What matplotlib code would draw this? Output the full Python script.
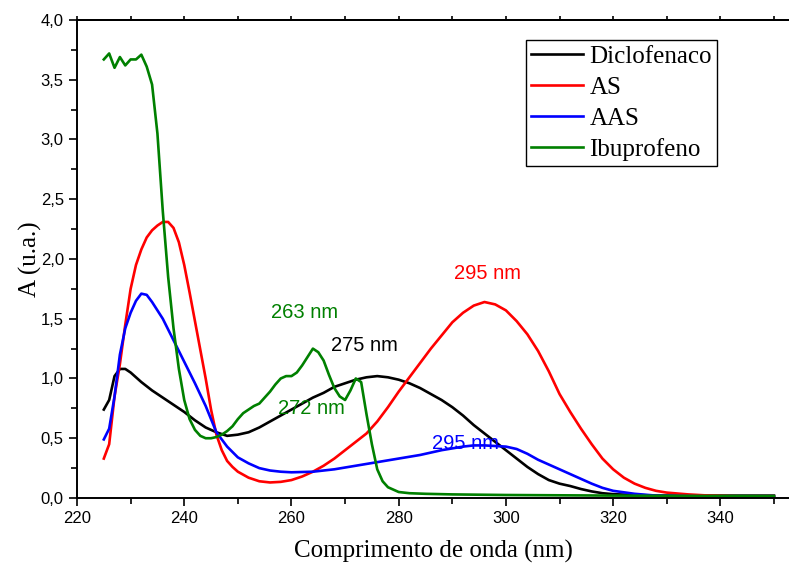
import matplotlib
matplotlib.use("Agg")
import matplotlib.pyplot as plt
from matplotlib.ticker import MultipleLocator, FuncFormatter

# ------------------------------------------------------------
# Absorption spectra (wavelength in nm, absorbance in a.u.)
# ------------------------------------------------------------

wl_diclo = [225, 226, 227, 228, 229, 230, 232, 234, 236, 238, 240, 242, 244, 246,
            248, 250, 252, 254, 256, 258, 260, 262, 264, 266, 268, 270, 272, 274,
            276, 278, 280, 282, 284, 286, 288, 290, 292, 294, 296, 298, 300, 302,
            304, 306, 308, 310, 312, 314, 316, 318, 320, 324, 328, 332, 340, 350]
a_diclo = [0.74, 0.82, 1.02, 1.08, 1.08, 1.05, 0.97, 0.90, 0.84, 0.78, 0.72, 0.65,
           0.59, 0.55, 0.52, 0.53, 0.55, 0.59, 0.64, 0.69, 0.74, 0.79, 0.84, 0.88,
           0.93, 0.96, 0.99, 1.01, 1.02, 1.01, 0.99, 0.96, 0.92, 0.87, 0.82, 0.76,
           0.69, 0.61, 0.54, 0.47, 0.40, 0.33, 0.26, 0.20, 0.15, 0.12, 0.10, 0.075,
           0.055, 0.04, 0.032, 0.025, 0.02, 0.02, 0.02, 0.02]

wl_as = [225, 226, 227, 228, 229, 230, 231, 232, 233, 234, 235, 236, 237, 238, 239,
         240, 241, 242, 243, 244, 245, 246, 247, 248, 249, 250, 252, 254, 256, 258,
         260, 262, 264, 266, 268, 270, 272, 274, 276, 278, 280, 282, 284, 286, 288,
         290, 292, 294, 296, 298, 300, 302, 304, 306, 308, 310, 312, 314, 316, 318,
         320, 322, 324, 326, 328, 330, 334, 338, 342, 350]
a_as = [0.33, 0.45, 0.85, 1.12, 1.45, 1.75, 1.95, 2.08, 2.18, 2.24, 2.28, 2.31, 2.31,
        2.26, 2.14, 1.95, 1.72, 1.48, 1.24, 1.00, 0.74, 0.53, 0.40, 0.31, 0.26, 0.22,
        0.17, 0.14, 0.13, 0.135, 0.15, 0.18, 0.22, 0.27, 0.33, 0.40, 0.47, 0.54, 0.64,
        0.76, 0.89, 1.01, 1.13, 1.25, 1.36, 1.47, 1.55, 1.61, 1.64, 1.62, 1.57, 1.48,
        1.37, 1.23, 1.06, 0.87, 0.72, 0.58, 0.45, 0.33, 0.24, 0.17, 0.12, 0.085, 0.06,
        0.045, 0.03, 0.02, 0.015, 0.01]

wl_aas = [225, 226, 227, 228, 229, 230, 231, 232, 233, 234, 236, 238, 240, 242, 244,
          246, 248, 250, 252, 254, 256, 258, 260, 264, 268, 272, 276, 280, 284, 288,
          292, 294, 296, 298, 300, 302, 304, 306, 308, 310, 312, 314, 316, 318, 320,
          324, 328, 335, 350]
a_aas = [0.49, 0.58, 0.85, 1.20, 1.42, 1.55, 1.65, 1.71, 1.70, 1.64, 1.50, 1.32, 1.14,
         0.96, 0.77, 0.55, 0.43, 0.34, 0.29, 0.25, 0.23, 0.22, 0.215, 0.22, 0.24, 0.27,
         0.30, 0.33, 0.36, 0.40, 0.43, 0.44, 0.44, 0.435, 0.43, 0.41, 0.37, 0.32, 0.28,
         0.24, 0.20, 0.16, 0.12, 0.085, 0.06, 0.035, 0.02, 0.015, 0.01]

wl_ibu = [225, 226, 227, 228, 229, 230, 231, 232, 233, 234, 235, 236, 237, 238, 239,
          240, 241, 242, 243, 244, 245, 246, 247, 248, 249, 250, 251, 252, 253, 254,
          255, 256, 257, 258, 259, 260, 261, 262, 263, 264, 265, 266, 267, 268, 269,
          270, 271, 272, 273, 274, 275, 276, 277, 278, 280, 282, 285, 290, 300, 320, 350]
a_ibu = [3.67, 3.72, 3.60, 3.69, 3.62, 3.67, 3.67, 3.71, 3.61, 3.46, 3.05, 2.40, 1.85,
         1.42, 1.08, 0.82, 0.66, 0.57, 0.52, 0.50, 0.50, 0.51, 0.53, 0.56, 0.60, 0.66,
         0.71, 0.74, 0.77, 0.79, 0.84, 0.89, 0.95, 1.00, 1.02, 1.02, 1.05, 1.11, 1.18,
         1.25, 1.22, 1.15, 1.03, 0.92, 0.85, 0.82, 0.90, 1.00, 0.97, 0.70, 0.45, 0.24,
         0.14, 0.09, 0.05, 0.04, 0.035, 0.03, 0.025, 0.02, 0.015]

# peak labels: text, x, y, colour
peak_labels = [("263 nm", 262.5, 1.55, "green"),
               ("275 nm", 273.7, 1.28, "black"),
               ("272 nm", 263.8, 0.75, "green"),
               ("295 nm", 296.5, 1.88, "red"),
               ("295 nm", 292.4, 0.46, "blue")]

# ============================================================
# Plot
# ============================================================

serif = "Liberation Serif"
sans = "Liberation Sans"

fig = plt.figure(figsize=(7.89, 5.65), dpi=100)
ax = fig.add_axes([0.0976, 0.1186, 0.9024, 0.846])

lw = 1.9
ax.plot(wl_diclo, a_diclo, color="black", lw=lw, label="Diclofenaco")
ax.plot(wl_as, a_as, color="red", lw=lw, label="AS")
ax.plot(wl_aas, a_aas, color="blue", lw=lw, label="AAS")
ax.plot(wl_ibu, a_ibu, color="green", lw=lw, label="Ibuprofeno")

for txt, x, y, c in peak_labels:
    ax.text(x, y, txt, color=c, fontsize=14.5, family=sans, ha="center", va="center")

ax.set_xlim(220, 352.8)
ax.set_ylim(0, 4.0)

ax.xaxis.set_major_locator(MultipleLocator(20))
ax.xaxis.set_minor_locator(MultipleLocator(10))
ax.yaxis.set_major_locator(MultipleLocator(0.5))
ax.yaxis.set_minor_locator(MultipleLocator(0.25))
ax.yaxis.set_major_formatter(FuncFormatter(lambda v, p: f"{v:.1f}".replace(".", ",")))

ax.tick_params(which="both", direction="out", width=1.2, top=False, right=False)
ax.tick_params(which="major", length=6, labelsize=12)
ax.tick_params(which="minor", length=4)
for lab in ax.get_xticklabels() + ax.get_yticklabels():
    lab.set_family(sans)

# top axis: short ticks only, no labels
top = ax.secondary_xaxis("top")
top.set_xticks(range(220, 351, 10))
top.tick_params(direction="out", length=3, width=1.2, labeltop=False)
top.spines["top"].set_linewidth(1.4)

ax.spines["right"].set_visible(False)
for s in ("left", "bottom", "top"):
    ax.spines[s].set_linewidth(1.4)

ax.set_xlabel("Comprimento de onda (nm)", family=serif, fontsize=18, labelpad=10)
ax.set_ylabel("A (u.a.)", family=serif, fontsize=18, labelpad=-1)

leg = ax.legend(loc="upper right", bbox_to_anchor=(0.899, 0.958), borderaxespad=0,
                prop={"family": serif, "size": 18}, fancybox=False,
                edgecolor="black", framealpha=1, handlelength=2.1,
                labelspacing=0.34, borderpad=0.2, handletextpad=0.25)
leg.get_frame().set_linewidth(1.0)

fig.savefig("out.png", dpi=100)
